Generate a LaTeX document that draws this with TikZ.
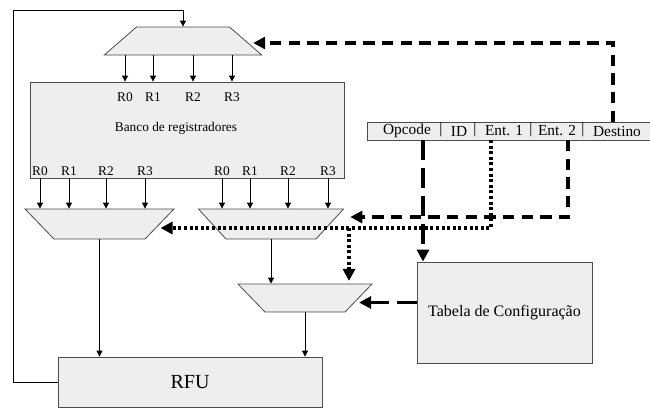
\documentclass[tikz,border=0pt]{standalone}
\usepackage{fontspec}
\setmainfont{Liberation Serif}
\usetikzlibrary{arrows.meta,positioning,calc,shapes.geometric}

\begin{document}
\begin{tikzpicture}[
    x=0.75pt,
    y=-0.75pt,
    >={Triangle[length=4.5pt,width=4.5pt]},
    box size/.style 2 args={minimum width=#1*0.75pt,minimum height=#2*0.75pt},
    unit/.style={
        draw=black!70,
        fill=gray!13,
        line width=0.6pt,
        inner sep=0pt
    },
    block/.style={unit,rectangle},
    mux/.style n args={3}{unit,trapezium,inner xsep=#1*0.375pt,inner ysep=#2*0.375pt,trapezium angle=#3},
    reg/.style={font=\fontsize{10}{12}\selectfont,inner sep=0pt},
    field/.style={font=\fontsize{11.5}{13}\selectfont,inner sep=0pt},
    wire/.style={->,line width=0.6pt},
    ctrl/.style={-{Triangle[length=9pt,width=9pt]},line width=2.4pt,dash pattern=on 8.5pt off 5.5pt},
    opcline/.style={-{Triangle[length=9pt,width=9pt]},line width=2.4pt,dash pattern=on 15pt off 6pt},
    sel/.style={line width=2.5pt,dash pattern=on 2.3pt off 1.9pt}
]
\useasboundingbox (0,0) rectangle (650,408);

% register file and its input multiplexer
\node[mux={93}{28}{41}] (regmux) at (183,41) {};
\node[block,box size={314}{96}] (bank) at (187,130) {};
\node[reg] (bankname) at (176,128) {Banco de registradores};

\node[reg] (q0) at (125,97) {R0};
\node[reg] (q1) at (153,97) {R1};
\node[reg] (q2) at (193,97) {R2};
\node[reg] (q3) at (232,97) {R3};

\node[reg] (a0) at (40,171) {R0};
\node[reg] (a1) at (69,171) {R1};
\node[reg] (a2) at (106,171) {R2};
\node[reg] (a3) at (145,171) {R3};
\node[reg] (b0) at (222,171) {R0};
\node[reg] (b1) at (250,171) {R1};
\node[reg] (b2) at (288,171) {R2};
\node[reg] (b3) at (328,171) {R3};

% operand multiplexers and RFU
\node[mux={91}{30}{46},shape border rotate=180] (muxa) at (99.5,224) {};
\node[mux={90}{30}{47.5},shape border rotate=180] (muxb) at (271,224) {};
\node[mux={80}{28}{46},shape border rotate=180] (muxc) at (305,298) {};
\node[block,box size={264}{50},font=\fontsize{15}{17}\selectfont] (rfu) at (190,382) {RFU};
\node[block,box size={175}{101},font=\fontsize{12}{14}\selectfont] (tabela) at (504.5,312.5) {Tabela de Configura\c{c}\~ao};

% instruction word
\node[block,box size={283}{18}] (instr) at (508.5,131) {};
\node[field] (fopc) at (407,131) {Opcode};
\node[field] (bar1) at (441,130) {|};
\node[field] (fid) at (459,131) {ID};
\node[field] (bar2) at (475,130) {|};
\node[field] (fent1) at (504,131) {Ent. 1};
\node[field] (bar3) at (531,130) {|};
\node[field] (fent2) at (557,131) {Ent. 2};
\node[field] (bar4) at (583,130) {|};
\node[field] (fdest) at (617,131) {Destino};

\coordinate (opcode) at (423,140);
\coordinate (ent1) at (491,140);
\coordinate (ent2) at (568,140);
\coordinate (destino) at (613,122);
\coordinate (split) at (349,228);
\coordinate (loop) at (13,10);

% data paths
\draw[wire] (rfu.west) -| (loop) -| (regmux.north);
\draw[wire] (regmux.south -| q0) -- (bank.north -| q0);
\draw[wire] (regmux.south -| q1) -- (bank.north -| q1);
\draw[wire] (regmux.south -| q2) -- (bank.north -| q2);
\draw[wire] (regmux.south -| q3) -- (bank.north -| q3);

\draw[wire] (bank.south -| a0) -- (a0 |- muxa.north);
\draw[wire] (bank.south -| a1) -- (a1 |- muxa.north);
\draw[wire] (bank.south -| a2) -- (a2 |- muxa.north);
\draw[wire] (bank.south -| a3) -- (a3 |- muxa.north);
\draw[wire] (bank.south -| b0) -- (b0 |- muxb.north);
\draw[wire] (bank.south -| b1) -- (b1 |- muxb.north);
\draw[wire] (bank.south -| b2) -- (b2 |- muxb.north);
\draw[wire] (bank.south -| b3) -- (b3 |- muxb.north);

\draw[wire] (muxa.south) -- (muxa.south |- rfu.north);
\draw[wire] (muxb.south) -- (muxb.south |- muxc.north);
\draw[wire] (muxc.south) -- (muxc.south |- rfu.north);

% control paths
\draw[ctrl] (destino) |- ($(regmux.east)+(7,2)$);
\draw[ctrl] (ent2) |- ($(muxb.east)+(20,-7)$);
\draw[sel,-{Triangle[length=9pt,width=9pt]}] (ent1) |- ($(muxa.east)+(0.5,4)$);
\draw[sel,-{Triangle[length=9pt,width=9pt]},shorten >=2pt] (split) -- (split |- muxc.north);
\draw[opcline] (opcode) -- (opcode |- tabela.north);
\draw[opcline] ($(tabela.west)+(0,-10)$) -- ($(muxc.east)+(0,4.5)$);

\end{tikzpicture}
\end{document}
